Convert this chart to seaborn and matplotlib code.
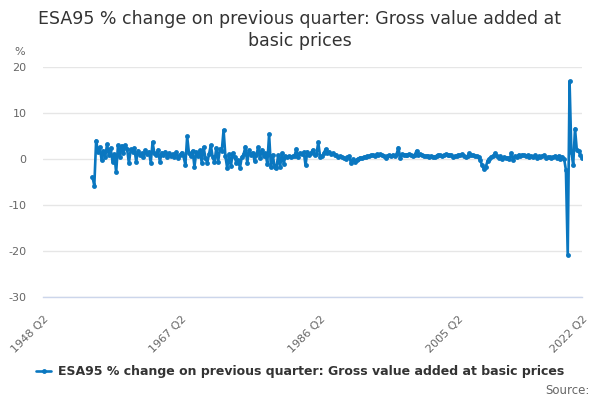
import matplotlib
matplotlib.use("Agg")
import matplotlib.pyplot as plt
import seaborn as sns
import pandas as pd

# axis runs over every quarter from 1948 Q2 to 2022 Q2, the series starts in 1955 Q1
axis_first = (1948, 2)
axis_last = (2022, 2)
series_first = "1955 Q1"

# % change on previous quarter
gva_change = [
    -3.9, -5.8, 4.0, 1.6,     # 1955
    2.6, -0.2, 1.8, 0.4,      # 1956
    3.2, 0.8, 2.4, -0.6,      # 1957
    1.0, -2.9, 3.0, 0.5,      # 1958
    2.9, 1.2, 3.0, 2.2,       # 1959
    -0.9, 2.1, 1.5, 2.4,      # 1960
    -0.6, 1.8, 0.9, 1.2,      # 1961
    0.4, 1.9, 1.0, 1.6,       # 1962
    -0.8, 3.7, 1.2, 0.9,      # 1963
    2.0, -0.6, 1.4, 0.8,      # 1964
    1.6, 0.5, 1.3, 0.7,       # 1965
    1.1, 0.4, 1.5, 0.2,       # 1966
    0.9, 1.4, 0.6, -1.3,      # 1967
    4.9, 1.2, 0.6, 1.8,       # 1968
    -1.7, 1.5, 0.6, 1.9,      # 1969
    -0.8, 2.6, 0.3, -0.9,     # 1970
    1.0, 3.0, 0.4, -0.6,      # 1971
    2.4, -0.6, 2.2, 1.8,      # 1972
    6.3, 0.6, -2.0, 1.0,      # 1973
    -1.6, 1.3, 0.5, -0.8,     # 1974
    -0.3, -1.9, 0.4, 1.0,     # 1975
    2.7, -0.8, 1.9, 0.9,      # 1976
    1.4, -0.4, 0.8, 2.6,      # 1977
    0.2, 2.0, 0.7, 1.2,       # 1978
    -1.0, 5.4, -1.8, 0.9,     # 1979
    -1.7, -1.9, 0.8, -1.8,    # 1980
    1.2, -1.0, 0.6, 0.4,      # 1981
    0.6, 0.5, 0.6, 0.7,       # 1982
    2.2, 0.4, 1.3, 1.1,       # 1983
    1.5, -1.3, 1.6, 0.8,      # 1984
    1.3, 2.0, 0.8, 1.1,       # 1985
    3.6, 0.5, 0.6, 1.2,       # 1986
    2.1, 1.3, 1.6, 1.0,       # 1987
    1.2, 0.9, 0.8, 0.5,       # 1988
    0.6, 0.4, 0.2, 0.1,       # 1989
    0.4, 0.6, -0.9, -0.1,     # 1990
    -0.6, -0.2, 0.1, 0.3,     # 1991
    0.2, 0.4, 0.5, 0.6,       # 1992
    0.6, 0.8, 0.9, 0.7,       # 1993
    1.0, 0.9, 1.0, 0.8,       # 1994
    0.6, 0.3, 0.7, 0.8,       # 1995
    0.6, 0.9, 0.7, 1.0,       # 1996
    2.5, 0.3, 1.0, 0.9,       # 1997
    0.9, 0.8, 1.0, 0.8,       # 1998
    0.7, 0.9, 1.8, 0.8,       # 1999
    1.0, 0.9, 0.7, 0.6,       # 2000
    0.7, 0.5, 0.6, 0.4,       # 2001
    0.5, 0.7, 0.9, 0.8,       # 2002
    0.6, 0.8, 1.0, 0.9,       # 2003
    0.8, 0.9, 0.5, 0.6,       # 2004
    0.7, 0.9, 0.8, 1.0,       # 2005
    0.7, 0.5, 0.6, 1.2,       # 2006
    0.9, 0.8, 0.7, 0.6,       # 2007
    0.4, -0.3, -1.4, -2.2,    # 2008
    -1.7, -0.4, 0.1, 0.5,     # 2009
    0.6, 1.2, 0.7, 0.3,       # 2010
    0.6, 0.1, 0.4, 0.2,       # 2011
    0.3, -0.1, 1.2, -0.2,     # 2012
    0.6, 0.5, 0.9, 0.6,       # 2013
    0.9, 0.8, 0.7, 0.8,       # 2014
    0.4, 0.6, 0.5, 0.8,       # 2015
    0.3, 0.6, 0.5, 0.7,       # 2016
    0.8, 0.3, 0.4, 0.4,       # 2017
    0.2, 0.5, 0.6, 0.3,       # 2018
    0.7, -0.1, 0.5, 0.1,      # 2019
    -2.4, -20.9, 16.9, 1.5,   # 2020
    -1.3, 6.6, 1.9, 1.7,      # 2021
    0.9, 0.2,                 # 2022
]

title = "ESA95 % change on previous quarter: Gross value added at\nbasic prices"
series_name = "ESA95 % change on previous quarter: Gross value added at basic prices"
y_ticks = [-30, -20, -10, 0, 10, 20]

blue = "#0a77c0"
grey_text = "#666666"
axis_col = "#ccd6eb"

# build the quarter labels of the category axis
quarters = []
yr, qt = axis_first
while (yr, qt) <= axis_last:
    quarters.append(f"{yr} Q{qt}")
    qt += 1
    if qt > 4:
        yr, qt = yr + 1, 1

start = quarters.index(series_first)
df = pd.DataFrame({"pos": range(start, start + len(gva_change)), "value": gva_change})

sns.set_theme(style="white")
plt.rcParams["font.family"] = ["DejaVu Sans"]

fig = plt.figure(figsize=(6, 4), dpi=100)
ax = fig.add_axes([0.0722, 0.2575, 0.8983, 0.575])

sns.lineplot(data=df, x="pos", y="value", ax=ax, color=blue, linewidth=1.9,
             marker="o", markersize=3.5, markeredgewidth=0, label=series_name)

ax.set_xlim(0, len(quarters) - 1)
ax.set_ylim(-30, 20)
ax.set_yticks(y_ticks)
ax.set_yticklabels([str(v) for v in y_ticks])
ax.grid(axis="y", color="#e6e6e6", linewidth=1)
ax.grid(axis="x", visible=False)
ax.set_xlabel("")
ax.set_ylabel("")

for s in ["top", "right", "left"]:
    ax.spines[s].set_visible(False)
ax.spines["bottom"].set_color(axis_col)
ax.spines["bottom"].set_linewidth(1)

# a tick every 19 quarters, a label on every 4th, plus the last quarter
tick_pos = list(range(0, len(quarters) - 1, 19)) + [len(quarters) - 1]
tick_lab = [quarters[p] if (i % 4 == 0 or p == len(quarters) - 1) else "" for i, p in enumerate(tick_pos)]
ax.set_xticks(tick_pos)
ax.set_xticklabels(tick_lab, rotation=45, ha="right", rotation_mode="anchor")
ax.tick_params(axis="x", direction="out", length=10, width=1, color=axis_col,
               labelsize=8, labelcolor=grey_text, pad=2)
ax.tick_params(axis="y", length=0, labelsize=8, labelcolor=grey_text, pad=12)

fig.text(0.5, 1 - 10 / 400, title, ha="center", va="top", fontsize=12.5,
         color="#333333", linespacing=1.25)
fig.text(14 / 600, 1 - 52 / 400, "%", ha="left", va="center", fontsize=8, color=grey_text)

leg = ax.legend(loc="center", bbox_to_anchor=(0.5, 1 - 372 / 400), bbox_transform=fig.transFigure,
                frameon=False, fontsize=9, handlelength=1.2, handletextpad=0.5)
for t in leg.get_texts():
    t.set_fontweight("bold")
    t.set_color("#333333")

fig.text(1 - 10 / 600, 1 - 390 / 400, "Source:", ha="right", va="center", fontsize=8.5, color=grey_text)

fig.savefig("out.png", dpi=100)
